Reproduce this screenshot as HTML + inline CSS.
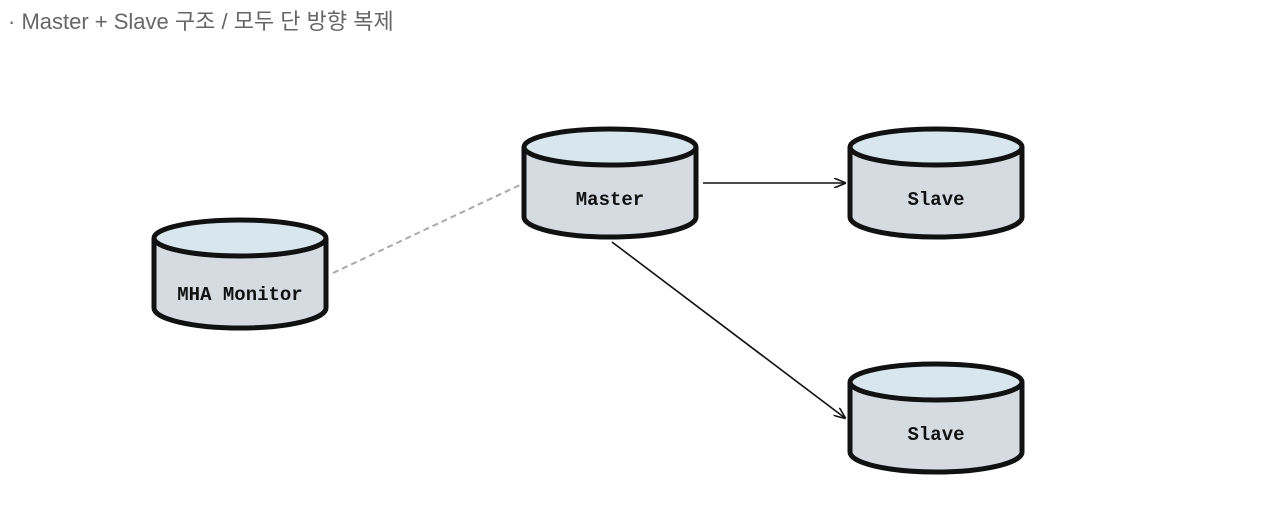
<!DOCTYPE html>
<html><head><meta charset="utf-8"><style>
body{margin:0;background:#fff;width:1280px;height:532px;overflow:hidden;position:relative}
.t{position:absolute;left:8px;top:4px;font-family:"Liberation Sans","Noto Sans CJK KR",sans-serif;font-size:22px;color:#666;}
</style></head><body>
<div class="t">· Master + Slave 구조 / 모두 단 방향 복제</div>
<svg width="1280" height="532" style="position:absolute;left:0;top:0">
<defs><marker id="a" markerWidth="12" markerHeight="10" refX="11" refY="5" orient="auto" markerUnits="userSpaceOnUse"><path d="M0,0 L12,5 L0,10" fill="none" stroke="#111" stroke-width="1.6"/></marker>
<g id="cyl">
<path d="M0,20 L0,90 A86,20 0 0 0 172,90 L172,20" fill="#d5dbe0" stroke="#111" stroke-width="5"/>
<ellipse cx="86" cy="20" rx="86" ry="18" fill="#d8e6ee" stroke="#111" stroke-width="5"/>
</g></defs>
<line x1="333" y1="273" x2="522" y2="184" stroke="#aaa" stroke-width="2" stroke-dasharray="6,4"/>
<line x1="703" y1="183" x2="845" y2="183" stroke="#111" stroke-width="1.6" marker-end="url(#a)"/>
<line x1="612" y1="242" x2="845" y2="418" stroke="#111" stroke-width="1.6" marker-end="url(#a)"/>
<use href="#cyl" x="154" y="218"/>
<use href="#cyl" x="524" y="127"/>
<use href="#cyl" x="850" y="127"/>
<use href="#cyl" x="850" y="362"/>
<g font-family="Liberation Mono,monospace" font-weight="bold" font-size="19" fill="#111" text-anchor="middle">
<text x="240" y="300">MHA Monitor</text>
<text x="610" y="205">Master</text>
<text x="936" y="205">Slave</text>
<text x="936" y="440">Slave</text>
</g>
</svg>
</body></html>
